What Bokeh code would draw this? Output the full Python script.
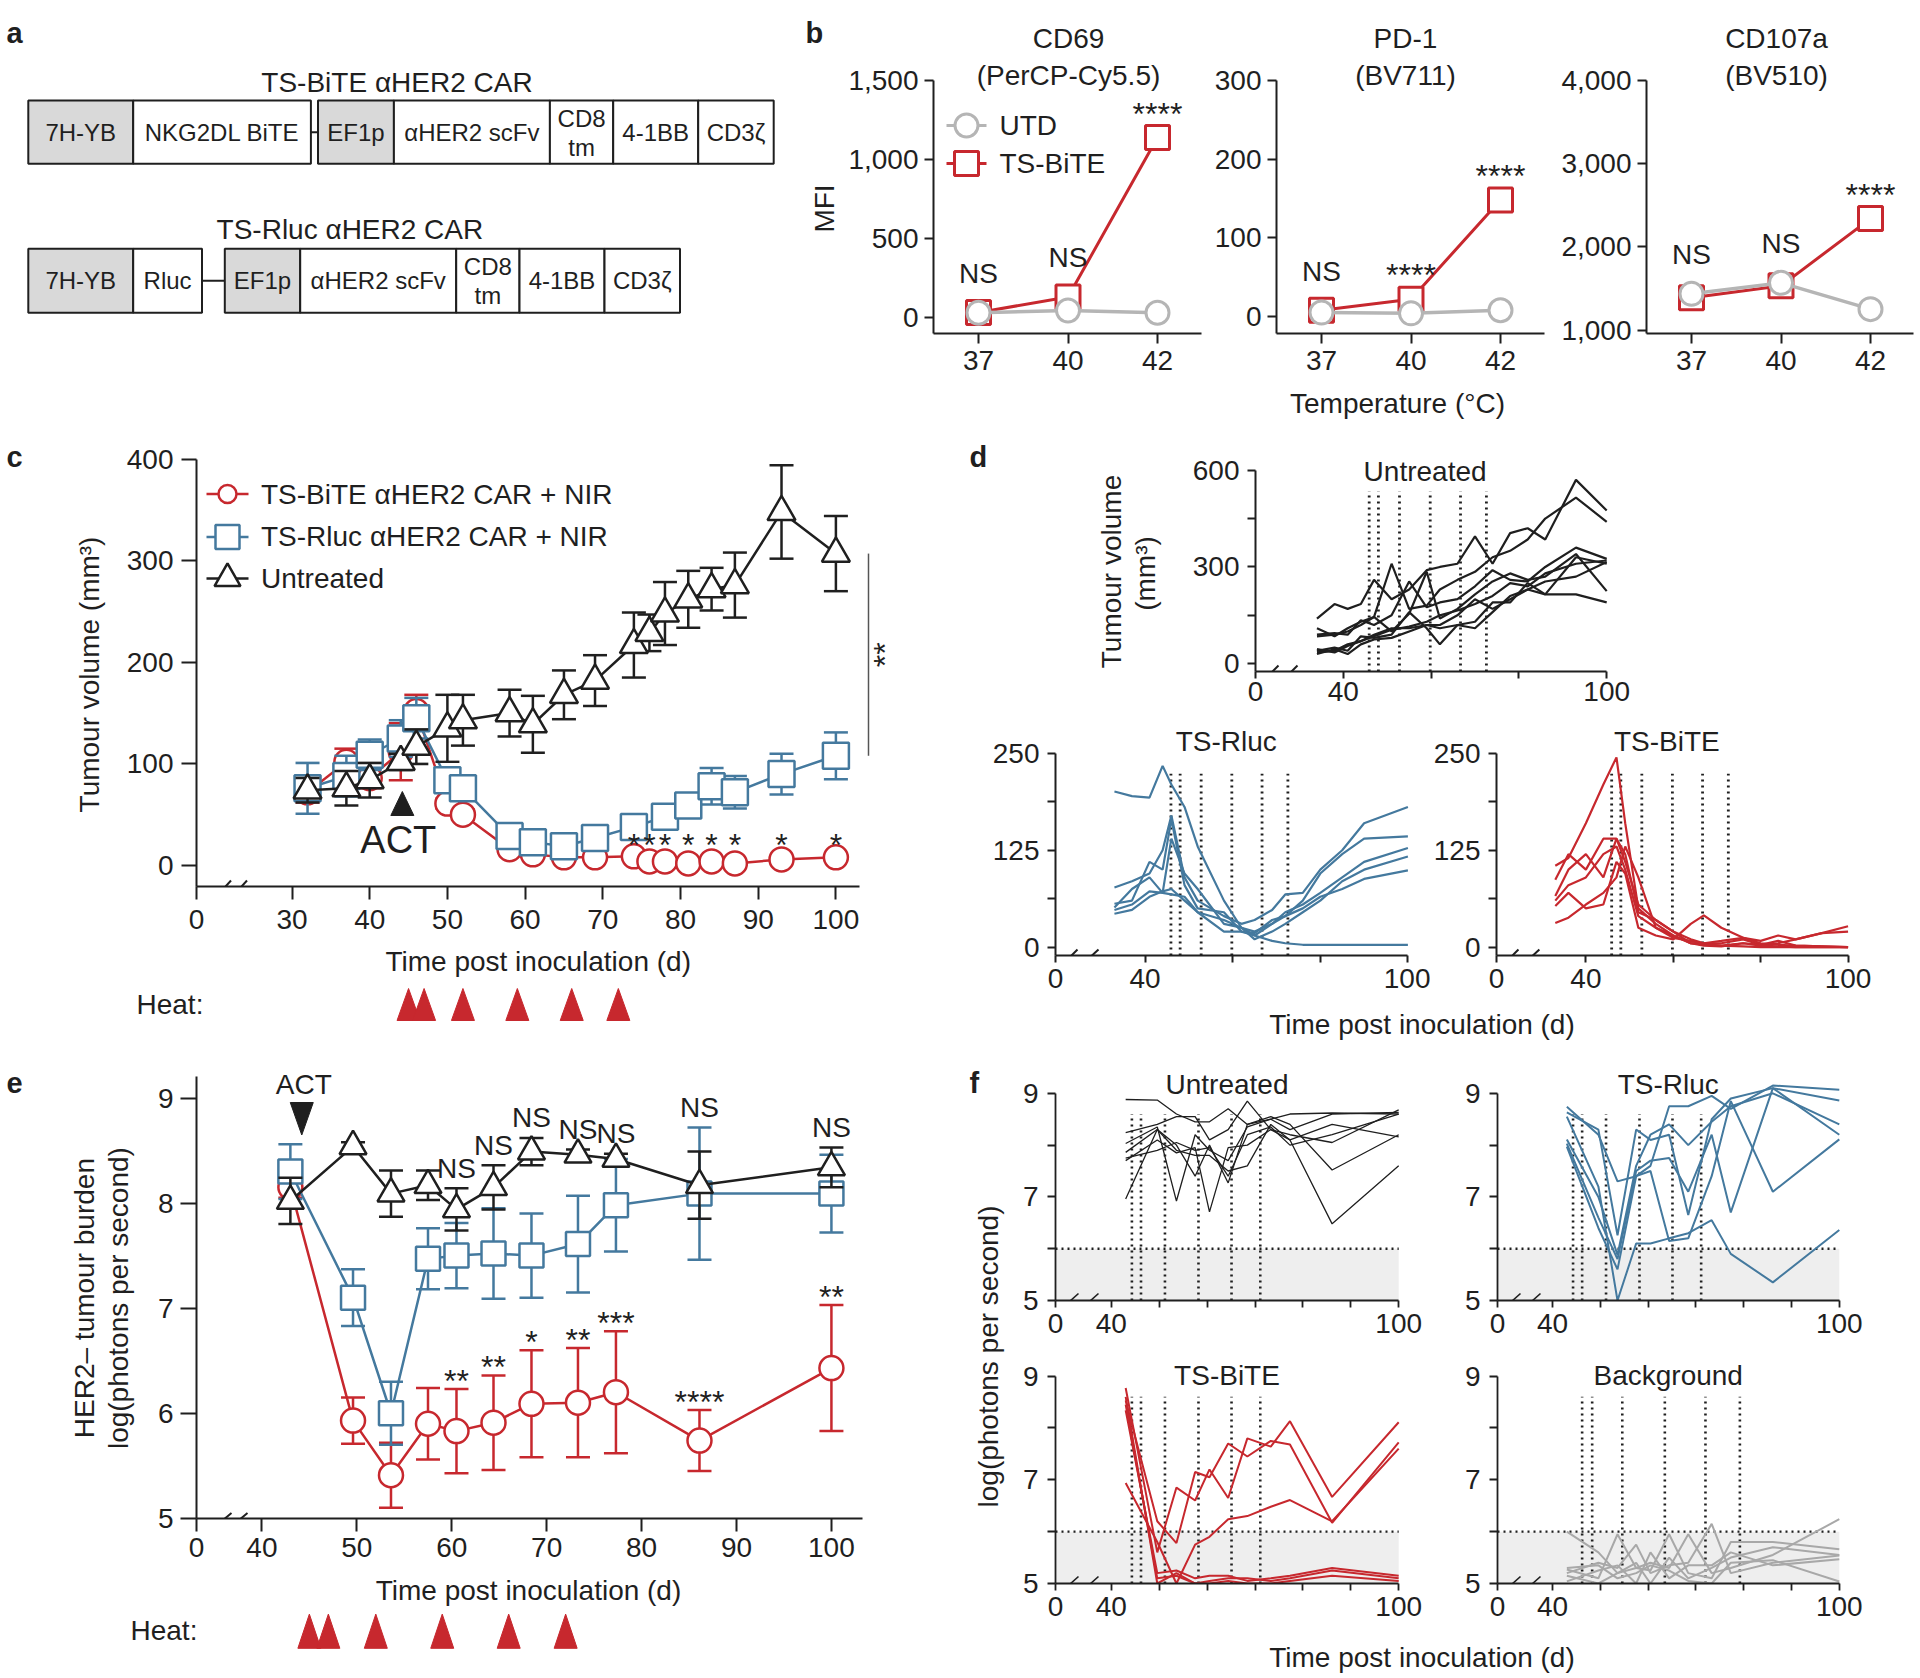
import math
from bokeh.plotting import figure
from bokeh.models import (Range1d, FixedTicker, CustomJSTickFormatter,
                          NumeralTickFormatter, Arrow)
from bokeh.layouts import row, column
from bokeh.embed import file_html
from bokeh.resources import INLINE
from bokeh.core.properties import value

FONT = "Liberation Sans"
INK = "#1f1f1f"
RED = "#c7282e"
BLUE = "#44799e"
UTD_GRAY = "#b5b5b5"
BG_GRAY = "#a8a8a8"
BOX_GRAY = "#d9d9d9"
SHADE = "#eeeeee"

# ============================ DATA ============================
# panel a
BITE_CAR_NAME = "TS-BiTE αHER2 CAR"
RLUC_CAR_NAME = "TS-Rluc αHER2 CAR"
BITE_CASSETTE = ["7H-YB", "NKG2DL BiTE"]
RLUC_CASSETTE = ["7H-YB", "Rluc"]
CAR_CASSETTE = ["EF1p", "αHER2 scFv", "CD8\ntm", "4-1BB", "CD3ζ"]
PROMOTERS = ["7H-YB", "EF1p"]

# panel b
TEMPS = ["37", "40", "42"]
CD69_UTD = [30, 44, 30]
CD69_BITE = [32, 130, 1139]
CD69_SIG = ["NS", "NS", "****"]
PD1_UTD = [5, 4, 8]
PD1_BITE = [8, 22, 148]
PD1_SIG = ["NS", "****", "****"]
CD107A_UTD = [1434, 1566, 1250]
CD107A_BITE = [1386, 1530, 2337]
CD107A_SIG = ["NS", "NS", "****"]
CD69_TICKS = [0, 500, 1000, 1500]
PD1_TICKS = [0, 100, 200, 300]
CD107A_TICKS = [1000, 2000, 3000, 4000]

# panel c (tumour volume, mm3)
C_DAYS = [32, 37, 40, 44, 46, 50, 52, 58, 61, 65, 69, 74, 76, 78, 81, 84, 87, 93, 100]
C_UNTREATED = [74, 76, 84, 102, 117, 135, 143, 150, 139, 168, 182, 217, 229, 248, 262, 272, 276, 348, 307]
C_UNTREATED_ERR = [12, 17, 17, 8, 17, 33, 25, 23, 28, 24, 25, 32, 18, 31, 28, 21, 32, 46, 37]
C_BITE = [72, 102, 86, 112, 152, 61, 50, 16, 11, 8, 8, 9, 4, 4, 2, 4, 2, 6, 8]
C_BITE_ERR = [10, 13, 10, 28, 16, 5, 5, 3, 3, 2, 2, 3, 2, 2, 2, 2, 2, 2, 3]
C_RLUC_DAYS = [32, 37, 40, 44, 46, 50, 52, 58, 61, 65, 69, 74, 78, 81, 84, 87, 93, 100]
C_RLUC = [76, 88, 109, 125, 145, 84, 76, 29, 23, 19, 27, 38, 48, 59, 78, 72, 90, 108]
C_RLUC_ERR = [25, 20, 15, 18, 20, 10, 12, 6, 5, 4, 5, 10, 10, 12, 18, 16, 20, 23]
C_SIG_DAYS = [74, 76, 78, 81, 84, 87, 93, 100]
C_SIG = ["*", "*", "*", "*", "*", "*", "*", "*"]
C_SIG_LEVEL = 27
C_XTICKS = [30, 40, 50, 60, 70, 80, 90, 100]
C_YTICKS = [0, 100, 200, 300, 400]
ACT_DAY = 44.2
HEAT_DAYS = [45, 47, 52, 59, 66, 72]

# panel d (individual mice)
D_UNT_DAYS = [34, 38, 41, 44, 47, 51, 55, 59, 62, 66, 70, 74, 78, 82, 86, 93, 100]
D_UNTREATED = [
    [140, 185, 170, 185, 260, 200, 230, 290, 300, 310, 395, 310, 405, 420, 385, 570, 475],
    [110, 85, 110, 130, 145, 310, 170, 180, 230, 260, 285, 330, 350, 385, 450, 515, 440],
    [90, 95, 90, 135, 120, 150, 255, 175, 190, 200, 240, 290, 260, 255, 300, 360, 325],
    [85, 90, 100, 120, 145, 100, 155, 285, 140, 170, 215, 255, 280, 260, 270, 340, 225],
    [40, 50, 40, 85, 80, 90, 160, 110, 60, 120, 130, 190, 190, 250, 215, 330, 310],
    [35, 40, 60, 70, 90, 110, 110, 120, 120, 150, 200, 170, 200, 230, 255, 270, 315],
    [30, 45, 30, 60, 75, 80, 100, 120, 110, 120, 110, 160, 210, 230, 215, 215, 190],
    [45, 35, 55, 70, 85, 105, 115, 130, 150, 165, 185, 210, 250, 240, 280, 310, 320],
]
D_RLUC_DAYS = [33, 37, 41, 44, 46, 49, 52, 58, 62, 65, 69, 72, 76, 80, 85, 90, 100]
D_RLUC = [
    [201, 195, 193, 234, 210, 181, 130, 60, 25, 15, 8, 5, 3, 3, 3, 3, 3],
    [77, 85, 95, 125, 170, 90, 60, 40, 30, 35, 48, 68, 70, 100, 125, 160, 181],
    [56, 60, 110, 100, 165, 80, 50, 45, 20, 18, 35, 40, 60, 95, 120, 140, 143],
    [51, 75, 90, 70, 140, 95, 75, 30, 25, 20, 30, 45, 55, 70, 90, 110, 128],
    [43, 48, 65, 72, 75, 60, 45, 35, 25, 10, 20, 30, 45, 60, 85, 100, 117],
    [48, 55, 72, 70, 68, 65, 45, 20, 20, 15, 30, 40, 50, 65, 75, 88, 99],
]
D_BITE_DAYS = [33, 36, 40, 44, 47, 49, 52, 56, 60, 64, 67, 71, 76, 80, 84, 88, 94, 100]
D_BITE = [
    [105, 115, 160, 210, 245, 160, 50, 30, 15, 5, 5, 5, 10, 3, 5, 10, 18, 27],
    [87, 120, 100, 140, 140, 110, 55, 35, 20, 10, 5, 8, 12, 8, 15, 10, 18, 20],
    [66, 100, 120, 90, 140, 120, 45, 35, 20, 5, 3, 2, 5, 3, 8, 2, 1, 0],
    [53, 70, 50, 55, 110, 95, 25, 15, 10, 30, 41, 25, 12, 5, 3, 2, 1, 0],
    [31, 38, 55, 70, 90, 130, 90, 25, 15, 5, 2, 1, 5, 2, 1, 0, 0, 0],
    [60, 80, 90, 120, 130, 100, 40, 25, 12, 8, 4, 2, 1, 0, 0, 0, 0, 0],
]
HEAT_DAYS_D = [45.9, 48.0, 52.8, 59.8, 66.7, 72.6]
D_UNT_YTICKS = [0, 300, 600]
D_UNT_YMINOR = [150, 450]
D_TX_YTICKS = [0, 125, 250]
D_TX_YMINOR = [62.5, 187.5]
D_XTICKS = [40, 100]
D_XMINOR = [60, 80]

# panel e (log photons per second)
E_DAYS = [43, 49.6, 53.6, 57.5, 60.5, 64.4, 68.4, 73.3, 77.3, 86.1, 100]
E_UNTREATED = [8.02, 8.54, 8.09, 8.17, 7.94, 8.15, 8.49, 8.46, 8.42, 8.17, 8.34]
E_UNTREATED_ERR = [0.22, 0.04, 0.22, 0.14, 0.20, 0.21, 0.13, 0.05, 0.05, 0.32, 0.19]
E_RLUC = [8.30, 7.10, 6.00, 7.47, 7.50, 7.52, 7.50, 7.61, 7.98, 8.09, 8.09]
E_RLUC_ERR = [0.26, 0.27, 0.30, 0.29, 0.31, 0.43, 0.40, 0.46, 0.44, 0.63, 0.37]
E_BITE = [8.15, 5.93, 5.41, 5.90, 5.83, 5.91, 6.09, 6.10, 6.20, 5.74, 6.43]
E_BITE_ERR = [0.10, 0.22, 0.31, 0.34, 0.40, 0.45, 0.51, 0.52, 0.58, 0.29, 0.60]
E_SIG_DAYS = [60.5, 64.4, 68.4, 73.3, 77.3, 86.1, 100]
E_SIG_NS = ["NS", "NS", "NS", "NS", "NS", "NS", "NS"]
E_SIG_BITE = ["**", "**", "*", "**", "***", "****", "**"]
E_XTICKS = [40, 50, 60, 70, 80, 90, 100]
E_YTICKS = [5, 6, 7, 8, 9]

# panel f (individual mice, log photons per second)
F_DAYS = E_DAYS
F_UNTREATED = [
    [8.88, 8.87, 8.60, 8.45, 8.45, 8.70, 8.40, 8.50, 8.60, 8.62, 8.60],
    [8.24, 8.40, 8.55, 8.55, 8.10, 8.30, 8.85, 8.30, 8.20, 8.05, 8.68],
    [8.03, 8.35, 6.92, 8.20, 7.90, 7.70, 8.35, 8.50, 8.30, 8.60, 8.63],
    [7.86, 8.30, 8.00, 7.40, 8.00, 7.27, 8.40, 8.55, 8.40, 7.52, 8.20],
    [7.70, 8.10, 7.85, 7.95, 6.71, 7.95, 8.00, 8.30, 8.10, 8.40, 8.16],
    [6.96, 8.30, 7.90, 7.80, 7.80, 7.50, 7.60, 8.40, 8.10, 6.48, 7.60],
    [7.75, 7.90, 8.05, 7.90, 7.95, 7.40, 8.20, 8.35, 8.00, 8.20, 8.60],
]
F_RLUC = [
    [8.74, 8.20, 7.30, 7.40, 7.60, 8.75, 8.75, 8.95, 8.70, 9.15, 9.07],
    [8.63, 8.30, 6.26, 8.30, 8.10, 8.20, 6.65, 8.50, 8.90, 9.10, 8.86],
    [8.11, 7.00, 5.88, 7.60, 8.20, 8.40, 8.00, 8.45, 8.75, 9.00, 8.40],
    [8.03, 6.60, 5.80, 7.50, 7.70, 7.75, 7.10, 8.20, 6.70, 9.10, 8.20],
    [7.97, 6.40, 5.60, 7.40, 7.50, 6.15, 6.20, 7.40, 8.85, 7.10, 8.11],
    [8.55, 7.20, 5.00, 6.10, 6.10, 6.20, 6.30, 6.55, 5.90, 5.35, 6.36],
]
F_BITE = [
    [8.77, 5.60, 6.85, 6.60, 7.20, 6.65, 7.80, 7.64, 8.13, 6.67, 8.11],
    [8.53, 6.20, 5.78, 7.15, 7.05, 7.70, 7.45, 7.75, 7.68, 6.17, 7.72],
    [6.94, 5.80, 5.00, 5.75, 5.90, 6.24, 6.30, 6.48, 6.61, 6.20, 7.60],
    [8.34, 5.20, 5.25, 5.10, 5.15, 5.15, 5.05, 5.10, 5.15, 5.30, 5.15],
    [8.60, 5.00, 5.20, 5.00, 5.05, 5.10, 5.10, 5.05, 5.10, 5.25, 5.10],
    [8.45, 5.10, 5.15, 5.00, 5.00, 5.05, 5.00, 5.00, 5.05, 5.15, 5.05],
]
F_BACKGROUND = [
    [6.00, 5.60, 5.20, 5.30, 5.40, 5.30, 5.95, 5.20, 5.30, 5.55, 6.24],
    [5.27, 5.10, 5.95, 5.30, 5.25, 5.95, 5.20, 5.10, 5.80, 5.80, 5.66],
    [5.20, 5.40, 5.30, 5.75, 5.20, 5.35, 5.40, 6.15, 5.20, 5.40, 5.54],
    [5.04, 5.25, 5.35, 5.00, 5.60, 5.10, 5.35, 5.35, 5.60, 5.35, 5.47],
    [5.15, 5.00, 5.20, 5.40, 5.00, 5.50, 5.10, 5.30, 5.50, 5.70, 5.55],
    [5.30, 5.35, 5.10, 5.20, 5.35, 5.25, 5.05, 5.00, 5.40, 5.45, 5.04],
]
HEAT_DAYS_F = [44.3, 46.2, 51.2, 58.2, 65.1, 71.1]
BG_MARK_DAYS = [46.2, 48.3, 54.6, 63.5, 72.0, 79.2]
F_LIMIT = 6.0
F_YMIN = 5.0
F_XMAX = 100
F_DOT_TOP = 8.6
F_YTICKS = [5, 7, 9]
F_YMINOR = [6, 8]
F_XTICKS = [40, 100]
F_XMINOR = [50, 60, 70, 80, 90]


# ============================ HELPERS ============================
class Spec:
    """canvas / frame rectangles in page pixels and a linear pixel<->data map."""
    def __init__(self, canvas, frame, xmap, ymap):
        self.x0, self.y0, self.x1, self.y1 = canvas
        self.fl, self.ft, self.fr, self.fb = frame
        self.xm, self.ym = xmap, ymap

    def X(self, px):
        r, v, k = self.xm
        return v + (px - r) / k

    def Y(self, py):
        r, v, k = self.ym
        return v + (r - py) / k

    def DX(self, d):
        return d / self.xm[2]


def img_spec(c, frame=None, xmap=None):
    f = frame if frame is not None else c
    xm = xmap if xmap is not None else (c[0], c[0], 1.0)
    return Spec(c, f, xm, (c[1], c[1], -1.0))


def make_fig(S, axes=True):
    kw = dict(width=S.x1 - S.x0, height=S.y1 - S.y0, title=None, toolbar_location=None,
              output_backend="svg", tools="",
              min_border_left=S.fl - S.x0, min_border_right=S.x1 - S.fr,
              min_border_top=S.ft - S.y0, min_border_bottom=S.y1 - S.fb,
              x_range=Range1d(S.X(S.fl), S.X(S.fr)), y_range=Range1d(S.Y(S.fb), S.Y(S.ft)),
              outline_line_color=None, background_fill_color="white", border_fill_color="white")
    if not axes:
        kw.update(x_axis_location=None, y_axis_location=None)
    p = figure(**kw)
    p.grid.visible = False
    return p


def style_axes(p, xto, xst, yto, yst, lw=2.0):
    for ax, to, st in ((p.xaxis[0], xto, xst), (p.yaxis[0], yto, yst)):
        ax.axis_line_width = lw
        ax.axis_line_color = INK
        ax.major_tick_line_width = lw
        ax.major_tick_line_color = INK
        ax.major_tick_in = 0
        ax.major_tick_out = to
        ax.minor_tick_line_width = lw
        ax.minor_tick_line_color = INK
        ax.minor_tick_in = 0
        ax.minor_tick_out = to
        ax.major_label_standoff = st
        ax.major_label_text_font = FONT
        ax.major_label_text_font_size = "28px"
        ax.major_label_text_color = INK


def tick_labels(ticks, labels):
    return CustomJSTickFormatter(args=dict(ts=list(ticks), ls=list(labels)), code="""
        for (let i = 0; i < ts.length; i++) {
            if (Math.abs(tick - ts[i]) < 1e-6) { return ls[i]; }
        }
        return "";
    """)


def txt(p, xs, ys, texts, size=28, align="center", baseline="middle", angle=0.0,
        color=INK, style="normal", x_offset=0, y_offset=0):
    p.text(x=list(xs), y=list(ys), text=list(texts), text_font=value(FONT),
           text_font_size=value(f"{size}px"), text_align=align, text_baseline=baseline,
           angle=angle, text_color=color, text_font_style=style,
           x_offset=x_offset, y_offset=y_offset)


def letter(p, x, y, s):
    txt(p, [x], [y], [s], size=29, align="left", baseline="alphabetic", style="bold")


def breaks(p, S, offs, up, dn, lw=2.0):
    for a, w in offs:
        p.add_layout(Arrow(end=None, x_start=S.X(S.fl + a), y_start=S.Y(S.fb + dn),
                           x_end=S.X(S.fl + a + w), y_end=S.Y(S.fb - up),
                           line_color=INK, line_width=lw))


def series(p, x, y, err, color, marker, size, lw=2.5, cap=24):
    lo = [a - e for a, e in zip(y, err)]
    hi = [a + e for a, e in zip(y, err)]
    p.line(x, y, line_color=color, line_width=lw)
    p.segment(x0=x, y0=lo, x1=x, y1=hi, line_color=color, line_width=lw)
    p.scatter(x, hi, marker="dash", size=cap, line_color=color, line_width=lw)
    p.scatter(x, lo, marker="dash", size=cap, line_color=color, line_width=lw)
    p.scatter(x, y, marker=marker, size=size, fill_color="white", line_color=color, line_width=lw)


STAR_SHIFT = 7  # asterisks sit high in the em box

# ============================ LAYOUT SPECS (page pixels) ============================
SA = img_spec((0, 0, 790, 425))
SBS = img_spec((790, 0, 843, 385), frame=(790, 0, 843, 333))
SB1 = Spec((843, 0, 1205, 385), (933, 0, 1201, 333), (978, 0, 89.5), (317, 0, 0.158))
SB2 = Spec((1205, 0, 1553, 385), (1276, 0, 1544, 333), (1321, 0, 89.5), (316, 0, 0.7867))
SB3 = Spec((1553, 0, 1918, 385), (1646, 0, 1913, 333), (1691, 0, 89.5), (329.5, 1000, 0.08333))
SBX = img_spec((790, 385, 1918, 425))

SCS = img_spec((0, 425, 110, 942), frame=(0, 425, 110, 886))
SC = Spec((110, 425, 950, 942), (196, 425, 950, 886), (291.5, 30, 7.77), (865, 0, 1.016))
SCH = img_spec((0, 942, 950, 1045), xmap=(291.5, 30, 7.77))
SDS = img_spec((950, 425, 1165, 720), frame=(950, 425, 1165, 671))
SDU = Spec((1165, 425, 1918, 720), (1255, 425, 1918, 671), (1342.8, 40, 4.39), (663.2, 0, 0.3225))
SDR = Spec((950, 720, 1430, 1005), (1055, 720, 1430, 955), (1144.6, 40, 4.38), (946.6, 0, 0.7744))
SDB = Spec((1430, 720, 1918, 1005), (1495, 720, 1918, 955), (1584.6, 40, 4.38), (946.6, 0, 0.7744))
SDX = img_spec((950, 1005, 1918, 1045))

SES = img_spec((0, 1045, 140, 1572), frame=(0, 1045, 140, 1518))
SE = Spec((140, 1045, 950, 1572), (196, 1045, 950, 1518), (261.4, 40, 9.492), (1097.5, 9, 105.08))
SEH = img_spec((0, 1572, 950, 1676), xmap=(261.4, 40, 9.492))
SFY = img_spec((950, 1045, 1012, 1640))
SFU = Spec((1012, 1045, 1445, 1351), (1055, 1045, 1445, 1300), (1110.8, 40, 4.79), (1300, 5, 51.8))
SFR = Spec((1445, 1045, 1918, 1351), (1497, 1045, 1918, 1300), (1552, 40, 4.78), (1300, 5, 51.8))
SFB = Spec((1012, 1351, 1445, 1640), (1055, 1351, 1445, 1583), (1110.8, 40, 4.79), (1583, 5, 51.85))
SFG = Spec((1445, 1351, 1918, 1640), (1497, 1351, 1918, 1583), (1552, 40, 4.78), (1583, 5, 51.85))
SFX = img_spec((950, 1640, 1918, 1676))

# ============================ PANEL a ============================
pa = make_fig(SA, axes=False)
letter(pa, 6, 32, "a")


def construct(p, name, name_xy, parts1, edges1, parts2, edges2, ytop, ybot):
    ymid = (ytop + ybot) / 2
    for parts, edges in ((parts1, edges1), (parts2, edges2)):
        n = len(parts)
        fills = [BOX_GRAY if s in PROMOTERS else "white" for s in parts]
        p.quad(left=edges[:-1], right=edges[1:], top=[ytop] * n, bottom=[ybot] * n,
               fill_color=fills, line_color=INK, line_width=2)
        for s, l, r in zip(parts, edges[:-1], edges[1:]):
            cx = (l + r) / 2
            if "\n" in s:
                a, b = s.split("\n")
                txt(p, [cx, cx], [ymid - 14, ymid + 15], [a, b], size=24)
            else:
                txt(p, [cx], [ymid], [s], size=24)
    p.segment(x0=[edges1[-1]], y0=[ymid], x1=[edges2[0]], y1=[ymid], line_color=INK, line_width=2)
    txt(p, [name_xy[0]], [name_xy[1]], [name], size=28)


construct(pa, BITE_CAR_NAME, (396.5, 81.7), BITE_CASSETTE, [27.8, 132.7, 310.4],
          CAR_CASSETTE, [317.5, 393.4, 549.4, 612.7, 697.7, 773.2], 100, 163.3)
construct(pa, RLUC_CAR_NAME, (349.4, 229.3), RLUC_CASSETTE, [27.8, 132.7, 201.5],
          CAR_CASSETTE, [224.3, 299.7, 455.7, 519, 604, 679.5], 248.3, 312.3)


# ============================ PANEL b ============================
def panel_b(S, utd, bite, yticks, sig, name, title_x):
    p = make_fig(S)
    idx = list(range(len(TEMPS)))
    p.line(idx, bite, line_color=RED, line_width=3)
    p.scatter(idx, bite, marker="square", size=24, fill_color="white", line_color=RED, line_width=3)
    p.line(idx, utd, line_color=UTD_GRAY, line_width=3.5)
    p.scatter(idx, utd, marker="circle", size=23, fill_color="white", line_color=UTD_GRAY, line_width=3)
    style_axes(p, 10, 7, 9, 6)
    p.xaxis.ticker = FixedTicker(ticks=idx)
    p.xaxis.formatter = tick_labels(idx, TEMPS)
    p.yaxis.ticker = FixedTicker(ticks=yticks)
    p.yaxis.formatter = NumeralTickFormatter(format="0,0")
    p.yaxis.bounds = (S.Y(S.fb), yticks[-1])
    tops = [max(a, b) for a, b in zip(utd, bite)]
    for i, s in enumerate(sig):
        if s == "NS":
            txt(p, [i], [tops[i]], [s], y_offset=-39)
        else:
            txt(p, [i], [tops[i]], [s], size=32, y_offset=-31 + STAR_SHIFT)
    txt(p, [S.X(title_x)], [S.Y(38)], [name[0]])
    txt(p, [S.X(title_x)], [S.Y(75)], [name[1]])
    return p


pbs = make_fig(SBS, axes=False)
letter(pbs, 805, 32, "b")
txt(pbs, [824], [208], ["MFI"], angle=math.pi / 2)
pb1 = panel_b(SB1, CD69_UTD, CD69_BITE, CD69_TICKS, CD69_SIG, ("CD69", "(PerCP-Cy5.5)"), 1068)
pb2 = panel_b(SB2, PD1_UTD, PD1_BITE, PD1_TICKS, PD1_SIG, ("PD-1", "(BV711)"), 1405)
pb3 = panel_b(SB3, CD107A_UTD, CD107A_BITE, CD107A_TICKS, CD107A_SIG, ("CD107a", "(BV510)"), 1776)
for py, col, mk, sz, name in ((125, UTD_GRAY, "circle", 23, "UTD"), (163, RED, "square", 24, "TS-BiTE")):
    pb1.segment(x0=[SB1.X(946)], y0=[SB1.Y(py)], x1=[SB1.X(986)], y1=[SB1.Y(py)], line_color=col, line_width=3)
    pb1.scatter([SB1.X(966)], [SB1.Y(py)], marker=mk, size=sz, fill_color="white", line_color=col, line_width=3)
    txt(pb1, [SB1.X(999)], [SB1.Y(py)], [name], align="left")
pbx = make_fig(SBX, axes=False)
txt(pbx, [1397], [403], ["Temperature (°C)"])

# ============================ PANEL c ============================
pcs = make_fig(SCS, axes=False)
letter(pcs, 6, 456, "c")
txt(pcs, [89], [674], ["Tumour volume (mm³)"], angle=math.pi / 2)

pc = make_fig(SC)
style_axes(pc, 13, 10, 15, 8)
u0c = SC.X(SC.fl)
xt = [u0c] + C_XTICKS
pc.xaxis.ticker = FixedTicker(ticks=xt)
pc.xaxis.formatter = tick_labels(xt, ["0"] + [str(t) for t in C_XTICKS])
pc.xaxis.bounds = (u0c, SC.X(858.5))
pc.yaxis.ticker = FixedTicker(ticks=C_YTICKS)
pc.yaxis.bounds = (SC.Y(SC.fb), C_YTICKS[-1])
series(pc, C_DAYS, C_BITE, C_BITE_ERR, RED, "circle", 24)
series(pc, C_RLUC_DAYS, C_RLUC, C_RLUC_ERR, BLUE, "square", 26)
series(pc, C_DAYS, C_UNTREATED, C_UNTREATED_ERR, INK, "triangle", 28)
txt(pc, C_SIG_DAYS, [C_SIG_LEVEL] * len(C_SIG_DAYS), C_SIG, size=32, y_offset=STAR_SHIFT)
bx = SC.X(868)
pc.segment(x0=[bx], y0=[C_RLUC[-1]], x1=[bx], y1=[C_UNTREATED[-1]], line_color="#555555", line_width=1.5)
txt(pc, [SC.X(868 + 9 + STAR_SHIFT)], [(C_RLUC[-1] + C_UNTREATED[-1]) / 2], ["**"], size=32, angle=math.pi / 2)
hw = SC.DX(11.5)
pc.patches(xs=[[ACT_DAY - hw, ACT_DAY, ACT_DAY + hw]], ys=[[SC.Y(815), SC.Y(791), SC.Y(815)]],
           fill_color=INK, line_color=INK)
txt(pc, [ACT_DAY], [SC.Y(839)], ["ACT"], size=38, x_offset=-4)
for py, col, mk, sz, name in ((493.5, RED, "circle", 18, "TS-BiTE αHER2 CAR + NIR"),
                              (536.4, BLUE, "square", 24, "TS-Rluc αHER2 CAR + NIR"),
                              (578, INK, "triangle", 26, "Untreated")):
    pc.segment(x0=[SC.X(206)], y0=[SC.Y(py)], x1=[SC.X(248)], y1=[SC.Y(py)], line_color=col, line_width=2.5)
    pc.scatter([SC.X(227)], [SC.Y(py)], marker=mk, size=sz, fill_color="white", line_color=col, line_width=2.5)
    txt(pc, [SC.X(260.5)], [SC.Y(py)], [name], align="left")
breaks(pc, SC, [(24.5, 10), (40.5, 10)], 6, 5)

pch = make_fig(SCH, axes=False)
hw = SCH.DX(11.5)
pch.patches(xs=[[d - hw, d, d + hw] for d in HEAT_DAYS], ys=[[1020, 988, 1020]] * len(HEAT_DAYS),
            fill_color=RED, line_color=RED)
txt(pch, [SCH.X(136)], [1004], ["Heat:"], align="left")
txt(pch, [SCH.X(537.7)], [961], ["Time post inoculation (d)"])


# ============================ PANEL d ============================
def panel_d(S, days, lines, color, title, title_px, yt, ym, dot_top, ystand, xstand):
    p = make_fig(S)
    u0 = S.X(S.fl)
    n = len(HEAT_DAYS_D)
    p.segment(x0=HEAT_DAYS_D, y0=[S.Y(S.fb)] * n, x1=HEAT_DAYS_D, y1=[dot_top] * n,
              line_dash="2 4", line_width=2.8, line_color=INK)
    p.multi_line([days] * len(lines), lines, line_color=color, line_width=2.2)
    style_axes(p, 7, xstand, 8, ystand, lw=2)
    xt = [u0] + D_XTICKS
    p.xaxis.ticker = FixedTicker(ticks=xt, minor_ticks=D_XMINOR)
    p.xaxis.formatter = tick_labels(xt, ["0"] + [str(t) for t in D_XTICKS])
    p.xaxis.bounds = (u0, D_XTICKS[-1])
    p.yaxis.ticker = FixedTicker(ticks=yt, minor_ticks=ym)
    p.yaxis.bounds = (S.Y(S.fb), yt[-1])
    txt(p, [S.X(title_px[0])], [S.Y(title_px[1])], [title])
    return p


pds = make_fig(SDS, axes=False)
letter(pds, 969, 456, "d")
txt(pds, [1110.8], [571], ["Tumour volume"], angle=math.pi / 2)
txt(pds, [1144.6], [573], ["(mm³)"], angle=math.pi / 2)
pdu = panel_d(SDU, D_UNT_DAYS, D_UNTREATED, INK, "Untreated", (1424.6, 471), D_UNT_YTICKS, D_UNT_YMINOR, 535, 8, 3)
pdr = panel_d(SDR, D_RLUC_DAYS, D_RLUC, BLUE, "TS-Rluc", (1225.8, 741.1), D_TX_YTICKS, D_TX_YMINOR, 224, 8, 6)
pdb = panel_d(SDB, D_BITE_DAYS, D_BITE, RED, "TS-BiTE", (1665.8, 741.1), D_TX_YTICKS, D_TX_YMINOR, 224, 8, 6)
breaks(pdu, SDU, [(12, 11), (31, 11)], 6, 5)
breaks(pdr, SDR, [(11, 11), (31, 12)], 6, 5)
breaks(pdb, SDB, [(11, 11), (31, 12)], 6, 5)
pdx = make_fig(SDX, axes=False)
txt(pdx, [1421.5], [1024], ["Time post inoculation (d)"])

# ============================ PANEL e ============================
pes = make_fig(SES, axes=False)
letter(pes, 6, 1082, "e")
txt(pes, [83.7], [1297.6], ["HER2– tumour burden"], angle=math.pi / 2)
txt(pes, [118.3], [1297.6], ["log(photons per second)"], angle=math.pi / 2)

pe = make_fig(SE)
style_axes(pe, 13, 6, 16, 7)
u0e = SE.X(SE.fl)
xt = [u0e] + E_XTICKS
pe.xaxis.ticker = FixedTicker(ticks=xt)
pe.xaxis.formatter = tick_labels(xt, ["0"] + [str(t) for t in E_XTICKS])
pe.xaxis.bounds = (u0e, SE.X(861.5))
pe.yaxis.ticker = FixedTicker(ticks=E_YTICKS)
pe.yaxis.bounds = (E_YTICKS[0], SE.Y(1076))
series(pe, E_DAYS, E_BITE, E_BITE_ERR, RED, "circle", 24)
series(pe, E_DAYS, E_RLUC, E_RLUC_ERR, BLUE, "square", 24)
series(pe, E_DAYS, E_UNTREATED, E_UNTREATED_ERR, INK, "triangle", 27)
tops_all = [max(a + ea, b + eb, c + ec) for a, ea, b, eb, c, ec in
            zip(E_UNTREATED, E_UNTREATED_ERR, E_RLUC, E_RLUC_ERR, E_BITE, E_BITE_ERR)]
tops_bite = [a + e for a, e in zip(E_BITE, E_BITE_ERR)]
sig_idx = [E_DAYS.index(d) for d in E_SIG_DAYS]
txt(pe, E_SIG_DAYS, [tops_all[i] for i in sig_idx], E_SIG_NS, y_offset=-20)
txt(pe, E_SIG_DAYS, [tops_bite[i] for i in sig_idx], E_SIG_BITE, size=32, y_offset=-15 + STAR_SHIFT)
hw = SE.DX(11.5)
pe.patches(xs=[[ACT_DAY - hw, ACT_DAY + hw, ACT_DAY]], ys=[[SE.Y(1102), SE.Y(1102), SE.Y(1134.5)]],
           fill_color=INK, line_color=INK)
txt(pe, [ACT_DAY], [SE.Y(1084)], ["ACT"], x_offset=2)
breaks(pe, SE, [(23, 12), (39, 12)], 5.5, 4.5)

peh = make_fig(SEH, axes=False)
hw = SEH.DX(11.5)
peh.patches(xs=[[d - hw, d, d + hw] for d in HEAT_DAYS], ys=[[1647.8, 1613.6, 1647.8]] * len(HEAT_DAYS),
            fill_color=RED, line_color=RED)
txt(peh, [SEH.X(130)], [1629.7], ["Heat:"], align="left")
txt(peh, [SEH.X(528)], [1590], ["Time post inoculation (d)"])


# ============================ PANEL f ============================
def panel_f(S, lines, color, lw, title, title_px, marks, xstand):
    p = make_fig(S)
    u0 = S.X(S.fl)
    p.quad(left=[u0], right=[F_XMAX], bottom=[F_YMIN], top=[F_LIMIT], fill_color=SHADE, line_color=None)
    p.segment(x0=[u0], y0=[F_LIMIT], x1=[F_XMAX], y1=[F_LIMIT], line_dash="2 4", line_width=2.4, line_color=INK)
    n = len(marks)
    p.segment(x0=marks, y0=[F_YMIN] * n, x1=marks, y1=[F_DOT_TOP] * n,
              line_dash="2 4", line_width=2.6, line_color=INK)
    p.multi_line([F_DAYS] * len(lines), lines, line_color=color, line_width=lw)
    style_axes(p, 7, xstand, 8, 9, lw=1.8)
    xt = [u0] + F_XTICKS
    p.xaxis.ticker = FixedTicker(ticks=xt, minor_ticks=F_XMINOR)
    p.xaxis.formatter = tick_labels(xt, ["0"] + [str(t) for t in F_XTICKS])
    p.xaxis.bounds = (u0, F_XMAX)
    p.yaxis.ticker = FixedTicker(ticks=F_YTICKS, minor_ticks=F_YMINOR)
    p.yaxis.bounds = (F_YMIN, F_YTICKS[-1])
    txt(p, [S.X(title_px[0])], [S.Y(title_px[1])], [title])
    breaks(p, S, [(10, 13), (30, 13)], 7, 4.6, lw=1.6)
    return p


pfu = panel_f(SFU, F_UNTREATED, INK, 1.3, "Untreated", (1226.5, 1084.2), HEAT_DAYS_F, 6)
pfr = panel_f(SFR, F_RLUC, BLUE, 2.0, "TS-Rluc", (1667.7, 1084.2), HEAT_DAYS_F, 6)
pfb = panel_f(SFB, F_BITE, RED, 2.0, "TS-BiTE", (1226.5, 1375.3), HEAT_DAYS_F, 6)
pfg = panel_f(SFG, F_BACKGROUND, BG_GRAY, 2.0, "Background", (1667.7, 1375.3), BG_MARK_DAYS, 6)
pfy = make_fig(SFY, axes=False)
letter(pfy, 969, 1082, "f")
txt(pfy, [987.7], [1356], ["log(photons per second)"], angle=math.pi / 2)
pfx = make_fig(SFX, axes=False)
txt(pfx, [1421.5], [1657], ["Time post inoculation (d)"])

# ============================ ASSEMBLY ============================
top = row(pa, column(row(pbs, pb1, pb2, pb3), pbx))
mid = row(column(row(pcs, pc), pch),
          column(row(pds, pdu), row(pdr, pdb), pdx))
bot = row(column(row(pes, pe), peh),
          column(row(pfy, column(row(pfu, pfr), row(pfb, pfg))), pfx))
layout = column(top, mid, bot)

open("out.html", "w", encoding="utf-8").write(file_html(layout, INLINE))
